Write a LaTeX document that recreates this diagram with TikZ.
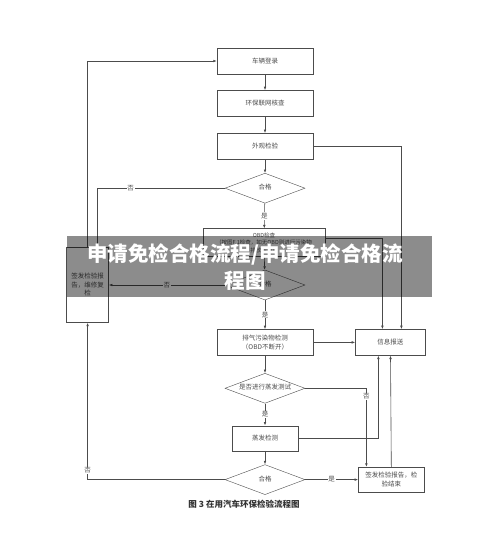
\documentclass[tikz,border=0pt]{standalone}
\usepackage{fontspec}
\setmainfont{Noto Sans CJK SC}
\usetikzlibrary{shapes.geometric, arrows.meta, positioning}
\tikzset{
    block/.style={rectangle, draw=black!70, fill=white, text=black!70, align=center, minimum width=96pt, minimum height=26pt, inner sep=1pt, font=\fontsize{6.5}{8.5}\selectfont},
    decision/.style={diamond, draw=black!70, fill=white, text=black!70, align=center, aspect=2.7, inner sep=0pt, text height=4pt, text depth=1pt, minimum width=80pt, minimum height=30pt, font=\fontsize{6.5}{8}\selectfont},
    arrow/.style={draw=black!70, line width=0.6pt, -{Latex[length=3.5pt, width=2.6pt]}},
    lbl/.style={fill=white, text=black!70, inner sep=0.8pt, font=\fontsize{6.5}{7}\selectfont}
}
\begin{document}
\begin{tikzpicture}[x=1pt, y=1pt, node distance=16pt]
            \useasboundingbox (0,0) rectangle (500,-535);
            \fill[white] (0,0) rectangle (500,-535);

            % main column
            \node[block] (login) at (265,-61) {车辆登录};
            \node[block] (check) [below=16pt of login] {环保联网核查};
            \node[block] (look) [below=16.5pt of check] {外观检验};
            \node[decision] (ok1) [below=13.5pt of look] {合格};
            \node[block, minimum width=122pt, minimum height=28pt, font=\fontsize{5.5}{7.5}\selectfont] (obd) [below=25pt of ok1, xshift=-1pt] {OBD检查\\（按图F.1检查，如无OBD则进行污染物\\排放检测）};
            \node[decision] (ok2) [below=13pt of obd, xshift=1pt] {合格};
            \node[block] (exhaust) [below=29pt of ok2] {排气污染物检测\\（OBD不断开）};
            \node[decision] (evapq) [below=17.5pt of exhaust] {是否进行蒸发测试};
            \node[block, minimum width=66pt, minimum height=25pt] (evap) [below=22pt of evapq] {蒸发检测};
            \node[decision] (ok3) [below=13.5pt of evap] {合格};

            % side boxes
            \node[block, minimum width=42pt, minimum height=75pt] (fix) [left=116pt of ok2] {签发检验报\\告，维修复\\检};
            \node[block, minimum width=70pt] (info) [right=42pt of exhaust] {信息报送};
            \node[block, minimum width=66pt, minimum height=25pt] (report) [right=53pt of ok3] {签发检验报告，检\\验结束};

            \node[font=\fontsize{8.5}{10}\selectfont\bfseries, text=black!80] (caption) [below=2pt of ok3, xshift=-21pt] {图 3 在用汽车环保检验流程图};

            % connectors
            \draw[arrow] (login) -- (check);
            \draw[arrow] (check) -- (look);
            \draw[arrow] (look) -- (ok1);
            \draw[arrow] (ok1) -- node[lbl] {是} (obd);
            \draw[arrow] (obd) -- (ok2);
            \draw[arrow] (ok2) -- node[lbl] {是} (exhaust);
            \draw[arrow] (exhaust) -- (evapq);
            \draw[arrow] (evapq) -- node[lbl] {是} (evap);
            \draw[arrow] (evap) -- (ok3);

            \draw[arrow] (look.east) -| ([xshift=11pt]info.north);
            \draw[arrow] ([yshift=4pt]obd.east) -| ([xshift=-8pt]info.north);
            \draw[arrow] (exhaust) -- (info);
            \draw[arrow] (evapq.east) -| node[lbl, pos=0.55] {否} ([xshift=-25pt]report.north);
            \draw[arrow] (evap.east) -| ([xshift=-12pt]info.south);
            \draw[arrow] (report) -- (info);
            \draw[arrow] (ok3) -- node[lbl] {是} (report);

            \draw[arrow] (ok3.west) -| node[lbl, pos=0.53] {否} (fix.south);
            \draw[arrow] (ok1.west) -| node[lbl, pos=0.37] {否} ([xshift=10pt]fix.north);
            \draw[arrow] (ok2.west) -- node[lbl] {否} (fix.east);
            \draw[arrow] (fix.north) |- (login.west);

            % watermark band
            \fill[black, opacity=0.45] (67,-236) rectangle (432,-297);
            \node[text=white, align=center, font=\fontsize{20.5}{27}\selectfont\bfseries] (banner) at (245,-267) {申请免检合格流程/申请免检合格流\\程图};
        \end{tikzpicture}
\end{document}
